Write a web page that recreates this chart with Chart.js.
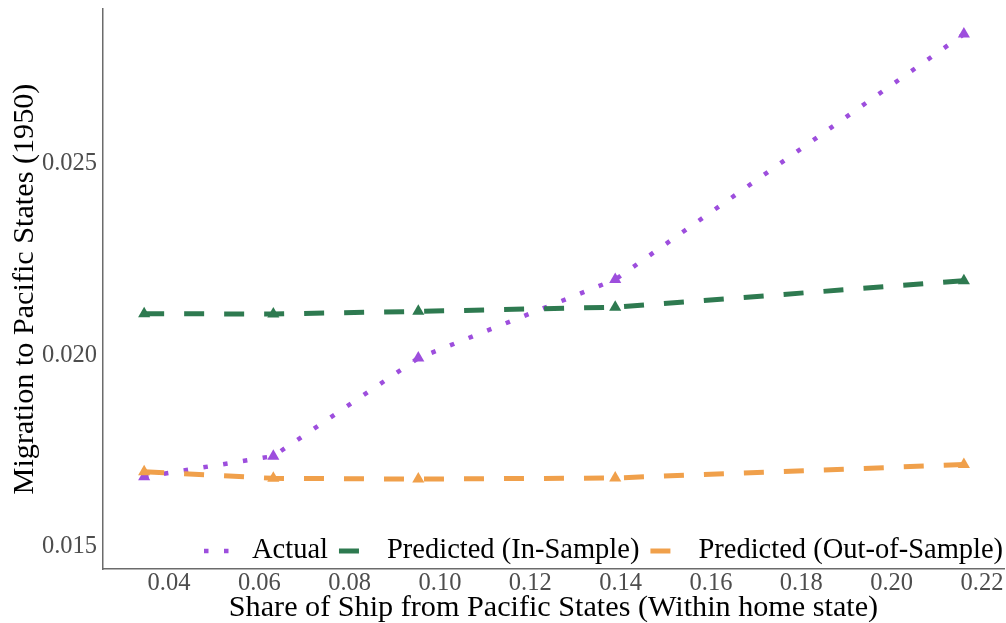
<!DOCTYPE html>
<html>
<head>
<meta charset="utf-8">
<script src="https://cdn.jsdelivr.net/npm/chart.js@4.4.1/dist/chart.umd.min.js"></script>
<style>
  html, body { margin: 0; padding: 0; background: #ffffff; }
  #wrap { width: 1006px; height: 623px; position: relative; }
</style>
</head>
<body>
<div id="wrap"><canvas id="chart"></canvas></div>
<script>
// Share of ship from Pacific states (within home state), by bin
const shareShip = [0.0345, 0.0631, 0.0952, 0.1388, 0.2160];

// Migration to Pacific states in 1950
const actual    = [0.01678, 0.01732, 0.01988, 0.02193, 0.02834];
const predIn    = [0.02104, 0.02103, 0.02110, 0.02121, 0.02190];
const predOut   = [0.01691, 0.01674, 0.01672, 0.01675, 0.01710];

const seriesLabels = ['Actual', 'Predicted (In-Sample)', 'Predicted (Out-of-Sample)'];

const xTickValues = [0.04, 0.06, 0.08, 0.10, 0.12, 0.14, 0.16, 0.18, 0.20, 0.22];
const yTickValues = [0.015, 0.020, 0.025];

const SERIF = '"Liberation Serif", "Times New Roman", "DejaVu Serif", serif';
const PURPLE = '#9d4edd';
const GREEN = '#2e7a50';
const ORANGE = '#f0a04b';

// The markers sit well inside the panel, so no extra room is reserved for them
class PanelLineController extends Chart.LineController {
  getMaxOverflow() { return 0; }
}
PanelLineController.id = 'panelLine';
PanelLineController.defaults = Chart.LineController.defaults;
PanelLineController.overrides = Chart.LineController.overrides;
Chart.register(PanelLineController);

function toPoints(ys) {
  return shareShip.map((x, i) => ({ x: x, y: ys[i] }));
}

function lineSeries(label, ys, color, dash, width, order) {
  return {
    label: label,
    data: toPoints(ys),
    borderColor: color,
    backgroundColor: color,
    borderWidth: width,
    borderDash: dash,
    borderCapStyle: 'butt',
    tension: 0,
    pointStyle: 'triangle',
    pointRadius: 7,
    pointHoverRadius: 7,
    pointBorderWidth: 0,
    pointBackgroundColor: color,
    fill: false,
    order: order
  };
}

// Keep the panel edges exactly where the layout padding puts them
function noLabelPadding(scale) {
  scale.paddingTop = 0;
  scale.paddingBottom = 0;
  scale.paddingLeft = 0;
  scale.paddingRight = 0;
}

// Legend drawn inside the panel, along its bottom edge
const insideLegend = {
  id: 'insideLegend',
  afterDatasetsDraw(chart) {
    const ctx = chart.ctx;
    const sets = [0, 1, 2].map(i => chart.data.datasets[i]);
    const keyW = 34, keyGap = 14, itemGap = 11;
    const y = 551;
    let x = 204;
    ctx.save();
    ctx.font = '28.5px ' + SERIF;
    ctx.textBaseline = 'middle';
    ctx.textAlign = 'left';
    sets.forEach(ds => {
      ctx.save();
      ctx.strokeStyle = ds.borderColor;
      ctx.lineWidth = ds.borderWidth;
      ctx.lineCap = 'butt';
      ctx.setLineDash(ds.borderDash);
      ctx.beginPath();
      ctx.moveTo(x, y);
      ctx.lineTo(x + keyW, y);
      ctx.stroke();
      ctx.restore();
      x += keyW + keyGap;
      ctx.fillStyle = '#000000';
      ctx.fillText(ds.label, x, y);
      x += ctx.measureText(ds.label).width + itemGap;
    });
    ctx.restore();
  }
};

new Chart(document.getElementById('chart'), {
  type: 'panelLine',
  data: {
    datasets: [
      lineSeries(seriesLabels[0], actual, PURPLE, [4.5, 15.5], 4.5, 2),
      lineSeries(seriesLabels[1], predIn, GREEN, [20, 20], 5, 1),
      lineSeries(seriesLabels[2], predOut, ORANGE, [20, 20], 5, 0)
    ]
  },
  options: {
    responsive: true,
    maintainAspectRatio: false,
    devicePixelRatio: 1,
    animation: false,
    layout: { padding: { top: 9, right: 2, bottom: 0, left: 0 } },
    plugins: {
      legend: { display: false },
      tooltip: { enabled: false }
    },
    scales: {
      x: {
        type: 'linear',
        min: 0.02539,
        max: 0.22488,
        afterFit(scale) { scale.height = 54; noLabelPadding(scale); },
        afterBuildTicks(scale) { scale.ticks = xTickValues.map(v => ({ value: v })); },
        grid: { display: false, drawTicks: false },
        border: { display: true, color: '#6b6b6b', width: 1.5 },
        ticks: {
          color: '#4d4d4d',
          padding: 0,
          font: { family: SERIF, size: 24.5 },
          maxRotation: 0,
          autoSkip: false,
          callback: v => v.toFixed(2)
        },
        title: {
          display: true,
          text: 'Share of Ship from Pacific States (Within home state)',
          color: '#000000',
          font: { family: SERIF, size: 30.2, lineHeight: 1 },
          padding: { top: 0, bottom: 0 }
        }
      },
      y: {
        type: 'linear',
        min: 0.014373,
        max: 0.028995,
        afterFit(scale) { scale.width = 103; noLabelPadding(scale); },
        afterBuildTicks(scale) { scale.ticks = yTickValues.map(v => ({ value: v })); },
        grid: { display: false, drawTicks: false },
        border: { display: true, color: '#6b6b6b', width: 1.5 },
        ticks: {
          color: '#4d4d4d',
          padding: 6,
          labelOffset: 2,
          font: { family: SERIF, size: 24.5 },
          autoSkip: false,
          callback: v => v.toFixed(3)
        },
        title: {
          display: true,
          text: 'Migration to Pacific States (1950)',
          color: '#000000',
          font: { family: SERIF, size: 30.2, lineHeight: 1 },
          padding: { top: 10, bottom: 0 }
        }
      }
    }
  },
  plugins: [insideLegend]
});
</script>
</body>
</html>
